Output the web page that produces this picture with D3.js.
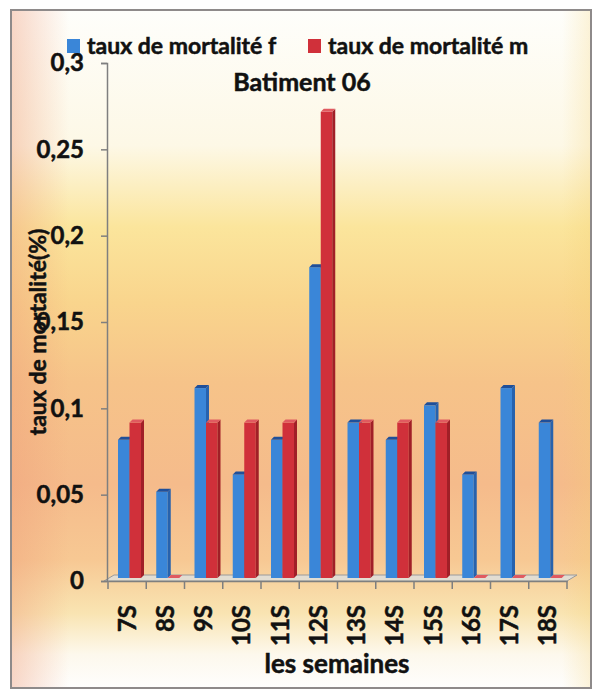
<!DOCTYPE html>
<html>
<head>
<meta charset="utf-8">
<script src="https://cdn.jsdelivr.net/npm/d3@7"></script>
<style>
  html, body { margin: 0; padding: 0; background: #ffffff; }
  svg { display: block; }
  text { font-family: Lato, "Open Sans", sans-serif; font-weight: bold; fill: #111; stroke: #111; stroke-width: 0.5px; }
</style>
</head>
<body>
<svg id="chart" width="597" height="692"></svg>
<script>
// Weekly mortality rates, building 06
const weeks = ["7S", "8S", "9S", "10S", "11S", "12S", "13S", "14S", "15S", "16S", "17S", "18S"];
const femaleRate = [0.08, 0.05, 0.11, 0.06, 0.08, 0.18, 0.09, 0.08, 0.10, 0.06, 0.11, 0.09];
const maleRate   = [0.09, 0.00, 0.09, 0.09, 0.09, 0.27, 0.09, 0.09, 0.09, 0.00, 0.00, 0.00];
const yTicks = [0, 0.05, 0.1, 0.15, 0.2, 0.25, 0.3];
const seriesNames = ["taux de mortalité f", "taux de mortalité m"];

const svg = d3.select("#chart");
const defs = svg.append("defs");

// Sunset-style background
const bg = defs.append("linearGradient").attr("id", "bgV").attr("x1", 0).attr("y1", 0).attr("x2", 0).attr("y2", 1);
[[0, "#fefefb"], [0.2, "#fdf8e6"], [0.32, "#fbe59c"], [0.43, "#f9d58d"], [0.55, "#f6c389"],
 [0.7, "#f5bb8b"], [0.81, "#f7c893"], [0.89, "#f9e4b2"], [0.95, "#fdf8ec"], [1, "#fefefd"]]
  .forEach(([o, c]) => bg.append("stop").attr("offset", o).attr("stop-color", c));
const bgH = defs.append("linearGradient").attr("id", "bgH").attr("x1", 0).attr("y1", 0).attr("x2", 1).attr("y2", 0);
[[0, "#ee9a78", 0.4], [0.1, "#ee9a78", 0], [0.95, "#f3d070", 0], [1, "#f3d070", 0.25]]
  .forEach(([o, c, a]) => bgH.append("stop").attr("offset", o).attr("stop-color", c).attr("stop-opacity", a));

svg.append("rect").attr("x", 11).attr("y", 10).attr("width", 580).attr("height", 678).attr("fill", "url(#bgV)");
svg.append("rect").attr("x", 11).attr("y", 10).attr("width", 580).attr("height", 678).attr("fill", "url(#bgH)");
svg.append("rect").attr("x", 11).attr("y", 10).attr("width", 580).attr("height", 678)
  .attr("fill", "none").attr("stroke", "#8e8a8a").attr("stroke-width", 2);

// Scales
const x = d3.scaleBand().domain(weeks).range([108, 567]).padding(0);
const inner = d3.scaleBand().domain([0, 1]).range([10, 33]).padding(0);
const y = d3.scaleLinear().domain([0, 0.3]).range([581, 63]);
const depthX = 3, depthY = 3;

// Floor
const fl = x.range();
svg.append("polygon")
  .attr("points", [[fl[0] - 4, y(0)], [fl[1], y(0)], [fl[1] + 10, y(0) - 6], [fl[0] + 6, y(0) - 6]].map(p => p.join(",")).join(" "))
  .attr("fill", "#e2ddd2").attr("stroke", "#9a9a9a").attr("stroke-width", 1);

// Axes
const yAxis = d3.axisLeft(y).tickValues(yTicks).tickSize(6).tickPadding(17)
  .tickFormat(d => String(d).replace(".", ","));
const gy = svg.append("g").attr("transform", "translate(107,0)").call(yAxis);
gy.select(".domain").attr("stroke", "#7f7f7f").attr("stroke-width", 1.5);
gy.selectAll(".tick line").attr("stroke", "#7f7f7f").attr("stroke-width", 1.5);
gy.selectAll(".tick text").style("font-size", "24px").attr("fill", "#111");

const xAxis = d3.axisBottom(x).tickSize(0).tickFormat(d => d);
const gx = svg.append("g").attr("transform", `translate(0,${y(0)})`).call(xAxis);
gx.select(".domain").attr("stroke", "#7f7f7f").attr("stroke-width", 1.5);
gx.selectAll(".tick text")
  .style("font-size", "24px").attr("fill", "#111")
  .attr("text-anchor", "end").attr("dy", "0.35em")
  .attr("transform", "translate(0,24) rotate(-90)").attr("x", 0).attr("y", 0);
// tick marks on band boundaries
gx.selectAll(".bound").data(d3.range(weeks.length + 1)).join("line")
  .attr("class", "bound")
  .attr("x1", i => fl[0] + i * x.bandwidth()).attr("x2", i => fl[0] + i * x.bandwidth())
  .attr("y1", 0).attr("y2", 8).attr("stroke", "#7f7f7f").attr("stroke-width", 1.5);

// 3D columns
const colors = [
  { front: "#3a86d8", side: "#2762ad", top: "#1f4f9a" },
  { front: "#d0303a", side: "#a11f27", top: "#e05a60" }
];
const bars = [];
weeks.forEach((w, i) => {
  [femaleRate[i], maleRate[i]].forEach((v, s) => bars.push({ w, v, s }));
});
const gBars = svg.append("g");
const barW = inner.bandwidth();
const bar = gBars.selectAll("g.bar").data(bars).join("g").attr("class", "bar");
const bx = d => x(d.w) + inner(d.s);
const barTop = d => y(d.v) - depthY;
const barBottom = () => y(0) - depthY;
bar.append("rect")
  .attr("x", bx).attr("y", barTop).attr("width", barW)
  .attr("height", d => barBottom() - barTop(d))
  .attr("fill", d => colors[d.s].front);
bar.append("polygon")
  .attr("points", d => {
    const x0 = bx(d) + barW;
    return [[x0, barTop(d)], [x0 + depthX, barTop(d) - depthY], [x0 + depthX, barBottom() - depthY], [x0, barBottom()]]
      .map(p => p.join(",")).join(" ");
  })
  .attr("fill", d => colors[d.s].side);
bar.append("polygon")
  .attr("points", d => {
    const x0 = bx(d);
    return [[x0, barTop(d)], [x0 + barW, barTop(d)], [x0 + barW + depthX, barTop(d) - depthY], [x0 + depthX, barTop(d) - depthY]]
      .map(p => p.join(",")).join(" ");
  })
  .attr("fill", d => colors[d.s].top);

// Legend
const legend = svg.append("g");
const legX = [67, 308];
seriesNames.forEach((name, s) => {
  legend.append("rect").attr("x", legX[s]).attr("y", 39).attr("width", 13).attr("height", 14)
    .attr("fill", colors[s].front);
  legend.append("text").attr("x", legX[s] + 20).attr("y", 54).style("font-size", "23px").text(name);
});

// Title
svg.append("text").attr("x", 302).attr("y", 91).attr("text-anchor", "middle")
  .style("font-size", "25px").text("Batiment 06");

// Axis titles
svg.append("text").attr("transform", "translate(46,332) rotate(-90)").attr("text-anchor", "middle")
  .style("font-size", "23px").text("taux de mortalité(%)");
svg.append("text").attr("x", 337).attr("y", 673).attr("text-anchor", "middle")
  .style("font-size", "26px").text("les semaines");
</script>
</body>
</html>
